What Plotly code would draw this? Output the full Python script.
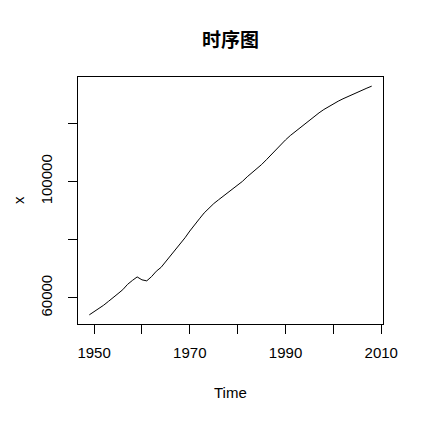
import plotly.graph_objects as go

years = list(range(1949, 2009))
population = [54167, 55196, 56300, 57482, 58796, 60266, 61465, 62828, 64653, 65994,
              67207, 66207, 65859, 67295, 69172, 70499, 72538, 74542, 76368, 78534,
              80671, 82992, 85229, 87177, 89211, 90859, 92420, 93717, 94974, 96259,
              97542, 98705, 100072, 101654, 103008, 104357, 105851, 107507, 109300, 111026,
              112704, 114333, 115823, 117171, 118517, 119850, 121121, 122389, 123626, 124761,
              125786, 126743, 127627, 128453, 129227, 129988, 130756, 131448, 132129, 132802]
x_ticks = [1950, 1970, 1990, 2010]
x_minor = [1960, 1980, 2000]
y_ticks = [60000, 80000, 100000, 120000]
y_ticktext = ["60000", "", "100000", ""]

# page has an 8px body margin; figure is sized/positioned to compensate
W, H = 416, 414
L, R, T, B = 70, 41, 69, 98

fig = go.Figure()
fig.add_trace(go.Scatter(x=years, y=population, mode="lines",
                         line=dict(color="black", width=1), hoverinfo="skip"))

xr = [1949 - 0.04 * 59, 2008 + 0.04 * 59]
yspan = max(population) - min(population)
yr = [min(population) - 0.04 * yspan, max(population) + 0.04 * yspan]

fig.update_layout(
    width=W, height=H,
    margin=dict(l=L, r=R, t=T, b=B),
    paper_bgcolor="white", plot_bgcolor="white",
    showlegend=False,
    font=dict(family="Liberation Sans, Arial", size=15, color="black"),
    title=dict(text="<b>时序图</b>", x=(L + (W - R)) / 2 / W, xanchor="center",
               y=1 - 32 / H, yanchor="middle",
               font=dict(family="Noto Sans CJK SC", size=19, color="black")),
    xaxis=dict(range=xr, tickmode="array",
               tickvals=x_ticks + x_minor,
               ticktext=[str(v) for v in x_ticks] + ["" for _ in x_minor],
               showgrid=False, zeroline=False,
               showline=True, linecolor="black", linewidth=1, mirror=True,
               ticks="outside", ticklen=9, tickcolor="black", tickwidth=1,
               ticklabelstandoff=6),
    yaxis=dict(range=yr, tickmode="array", tickvals=y_ticks, ticktext=y_ticktext,
               tickangle=-90,
               showgrid=False, zeroline=False,
               showline=True, linecolor="black", linewidth=1, mirror=True,
               ticks="outside", ticklen=9, tickcolor="black", tickwidth=1,
               ticklabelstandoff=10),
    annotations=[
        dict(text="Time", xref="paper", yref="paper", x=0.5, y=-(384 - (H - B)) / (H - T - B),
             xanchor="center", yanchor="middle", showarrow=False,
             font=dict(size=15, family="Liberation Sans, Arial")),
        dict(text="x", xref="paper", yref="paper", x=-(L - 1) / (W - L - R), y=0.5,
             xanchor="left", yanchor="middle", showarrow=False, textangle=-90,
             borderpad=0,
             font=dict(size=15, family="Liberation Sans, Arial")),
    ],
)

fig.write_html("out.html")
